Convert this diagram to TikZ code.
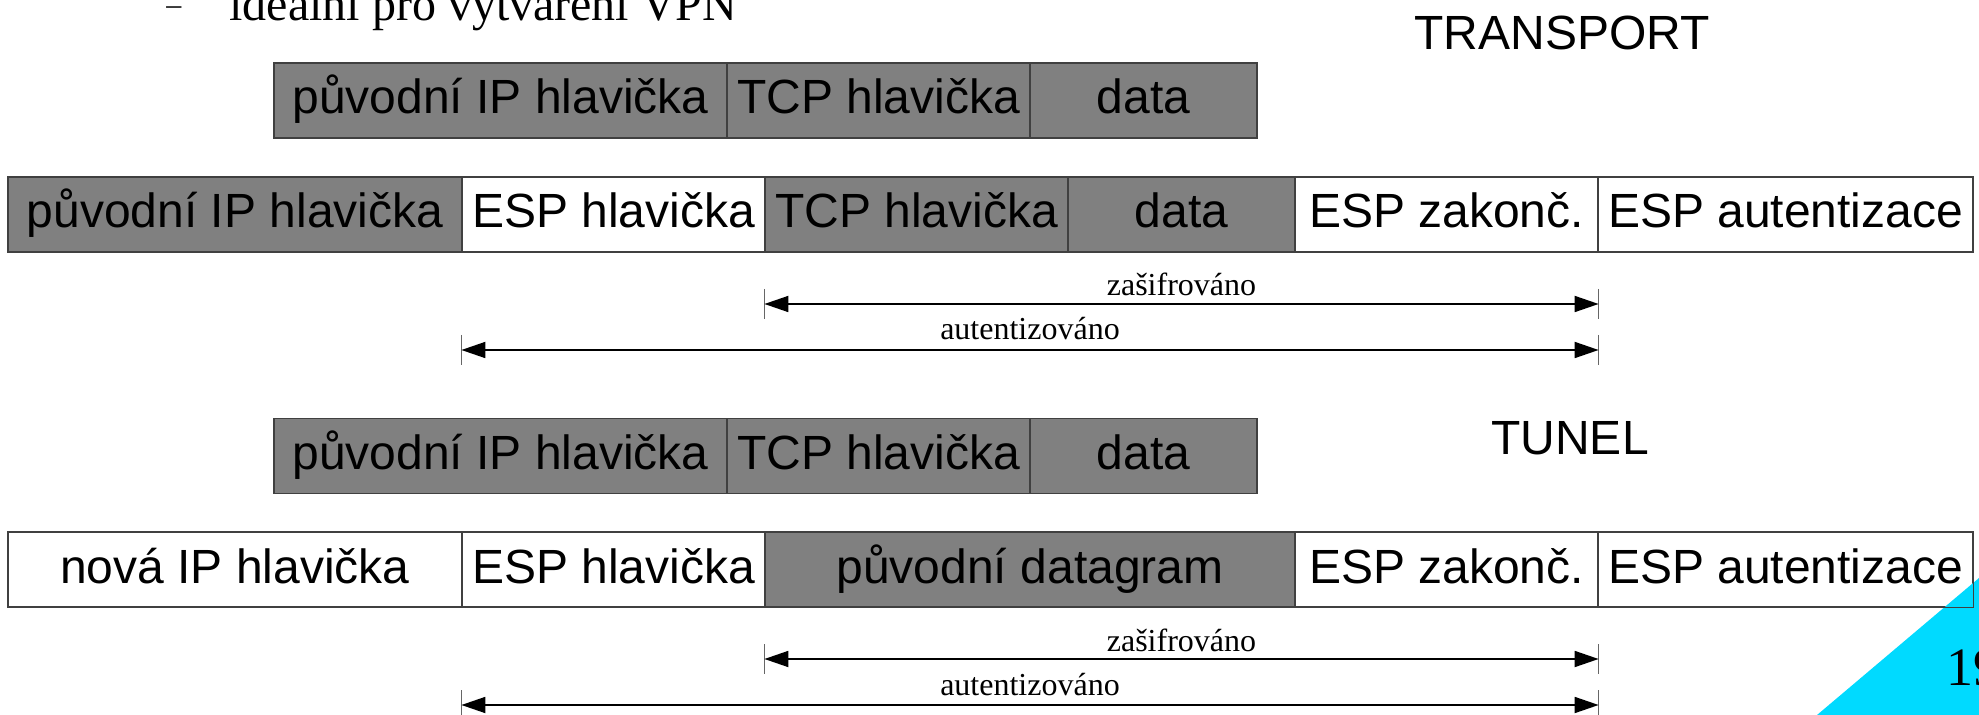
\documentclass[tikz,border=0pt]{standalone}
\usepackage{fontspec}
\setmainfont{Liberation Serif}
\newfontfamily\arial{Liberation Sans}
\usetikzlibrary{arrows.meta}
\definecolor{hdrgray}{RGB}{128,128,128}
\definecolor{cornercyan}{RGB}{0,218,255}
\tikzset{
  cell/.style={draw=black!75, line width=0.6pt, minimum height=37.5pt, inner sep=0pt,
    text height=19pt, text depth=5.5pt, font=\arial\fontsize{24}{28}\selectfont},
  grey/.style={cell, fill=hdrgray},
  white/.style={cell, fill=white},
  span/.style={line width=0.9pt, {Triangle[length=12pt,width=8pt]}-{Triangle[length=12pt,width=8pt]}},
  tick/.style={draw=black!60, line width=0.4pt},
  spanlabel/.style={anchor=base, inner sep=0pt, font=\fontsize{16}{19}\selectfont},
  title/.style={anchor=base, inner sep=0pt, font=\arial\fontsize{24}{28}\selectfont}
}
\begin{document}
\begin{tikzpicture}[x=0.5pt, y=-0.5pt]
\useasboundingbox (0,0) rectangle (1979,715);

% bullet line at the top
\node[anchor=base west, inner sep=0pt, font=\fontsize{15}{18}\selectfont] (dash) at (166,15) {–};
\node[anchor=base west, inner sep=0pt, font=\fontsize{24}{28}\selectfont] (bullet) at (229,21) {ideální pro vytváření VPN};

% mode titles
\node[title] (transport) at (1562,50) {TRANSPORT};
\node[title] (tunel) at (1570,455) {TUNEL};

% transport mode: original packet
\node[grey, minimum width=226.5pt] (a1) at (500.5,100.5) {původní IP hlavička};
\node[grey, minimum width=151.5pt] (b1) at (878.5,100.5) {TCP hlavička};
\node[grey, minimum width=113.5pt] (c1) at (1143.5,100.5) {data};

% transport mode: ESP packet
\node[grey,  minimum width=227pt]   (a2) at (235,214.5)    {původní IP hlavička};
\node[white, minimum width=151.5pt] (b2) at (613.5,214.5)  {ESP hlavička};
\node[grey,  minimum width=151.5pt] (c2) at (916.5,214.5)  {TCP hlavička};
\node[grey,  minimum width=113.5pt] (d2) at (1181.5,214.5) {data};
\node[white, minimum width=151.5pt] (e2) at (1446.5,214.5) {ESP zakonč.};
\node[white, minimum width=187.5pt] (f2) at (1785.5,214.5) {ESP autentizace};

% tunnel mode: original packet
\node[grey, minimum width=226.5pt] (a3) at (500.5,456) {původní IP hlavička};
\node[grey, minimum width=151.5pt] (b3) at (878.5,456) {TCP hlavička};
\node[grey, minimum width=113.5pt] (c3) at (1143.5,456) {data};

% tunnel mode: ESP packet
\node[white, minimum width=227pt]   (a4) at (235,569.5)    {nová IP hlavička};
\node[white, minimum width=151.5pt] (b4) at (613.5,569.5)  {ESP hlavička};
\node[grey,  minimum width=265pt]   (c4) at (1030,569.5)   {původní datagram};
\node[white, minimum width=151.5pt] (e4) at (1446.5,569.5) {ESP zakonč.};
\node[white, minimum width=187.5pt] (f4) at (1785.5,569.5) {ESP autentizace};

% extents of the encrypted and authenticated parts
\coordinate (zl2) at (c2.west |- 0,304);
\coordinate (zr2) at (e2.east |- 0,304);
\coordinate (al2) at (b2.west |- 0,350);
\coordinate (ar2) at (e2.east |- 0,350);
\coordinate (zl4) at (c4.west |- 0,659);
\coordinate (zr4) at (e4.east |- 0,659);
\coordinate (al4) at (b4.west |- 0,705);
\coordinate (ar4) at (e4.east |- 0,705);

\foreach \p in {zl2,zr2,al2,ar2,zl4,zr4,al4,ar4}
  \draw[tick] ([yshift=7.5pt]\p) -- ([yshift=-7.5pt]\p);

\draw[span] (zl2) -- (zr2) node[spanlabel, pos=0.5, yshift=4pt] (zt2) {zašifrováno};
\draw[span] (al2) -- (ar2) node[spanlabel, pos=0.5, yshift=5pt] (at2) {autentizováno};
\draw[span] (zl4) -- (zr4) node[spanlabel, pos=0.5, yshift=4pt] (zt4) {zašifrováno};
\draw[span] (al4) -- (ar4) node[spanlabel, pos=0.5, yshift=5pt] (at4) {autentizováno};

% slide corner with page number
\fill[cornercyan] (1817,715) -- (1979,715) -- (1979,578) -- cycle;
\draw[draw=black!75, line width=0.6pt] (f4.north west) rectangle (f4.south east);
\node[anchor=base west, inner sep=0pt, font=\fontsize{27}{32}\selectfont] (page) at (1946,685) {19};
\end{tikzpicture}
\end{document}
